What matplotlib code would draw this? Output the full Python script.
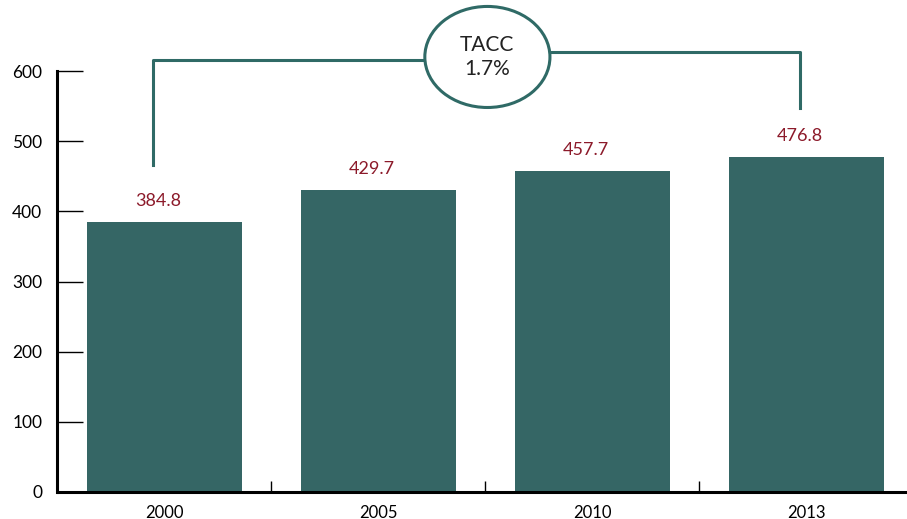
import matplotlib.pyplot as plt
from matplotlib.patches import Ellipse

plt.rcParams['font.family'] = ['Lato', 'DejaVu Sans']

anios = ['2000', '2005', '2010', '2013']
valores = [384.8, 429.7, 457.7, 476.8]
etiquetas = ['384.8', '429.7', '457.7', '476.8']
yticks = [0, 100, 200, 300, 400, 500, 600]
tacc = 'TACC\n1.7%'

verde = '#356665'
linea = '#2f6a66'
rojo = '#8c1a2a'

fig = plt.figure(figsize=(9.07, 5.19), dpi=100)
ax = fig.add_axes([57.5 / 907, 27 / 519, 855.5 / 907, 421 / 519])

x = list(range(len(anios)))
ax.bar(x, valores, width=0.725, color=verde, zorder=2)

for xi, v, t in zip(x, valores, etiquetas):
    ax.text(xi - 0.03, v + 19, t, ha='center', va='bottom', color=rojo, fontsize=13)

ax.set_xlim(-0.5, 3.5)
ax.set_ylim(0, 600)

# ejes
for s in ['top', 'right']:
    ax.spines[s].set_visible(False)
ax.spines['left'].set_linewidth(2.2)
ax.spines['bottom'].set_linewidth(2.2)

ax.set_yticks(yticks)
ax.set_yticklabels([str(t) for t in yticks], fontsize=12.5)
ax.tick_params(axis='y', direction='in', length=19, width=1, pad=11)
ax.set_xticks(x)
ax.set_xticklabels(anios, fontsize=12)
ax.tick_params(axis='x', length=0, pad=9)
ax.set_xticks([0.5, 1.5, 2.5], minor=True)
ax.tick_params(axis='x', which='minor', direction='in', length=8, width=1)

# corchete de la TACC
ax.plot([-0.053, -0.053, 1.22], [466, 615, 615], color=linea, lw=2.2, clip_on=False)
ax.plot([1.80, 2.97, 2.97], [627, 627, 547], color=linea, lw=2.2, clip_on=False)
ax.add_patch(Ellipse((1.51, 620), 0.585, 144, facecolor='white', edgecolor=linea,
                     lw=2.2, clip_on=False, zorder=3))
ax.text(1.51, 620, tacc, ha='center', va='center', fontsize=15, color='#222222',
        linespacing=1.25, zorder=4)

fig.savefig('out.png', dpi=100)
